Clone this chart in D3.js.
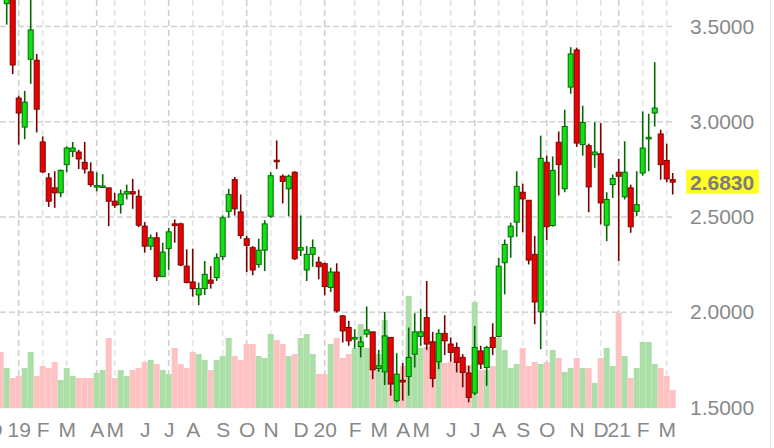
<!DOCTYPE html>
<html>
<head>
<meta charset="utf-8">
<script src="https://cdn.jsdelivr.net/npm/d3@7"></script>
<style>
  body { margin: 0; background: #fff; }
  svg { display: block; }
</style>
</head>
<body>
<script>
// Weekly candles, Dec 2018 - Mar 2021 (first entry sits above the visible range)
const open = [3.80, 3.62, 3.72, 3.124, 2.972, 3.328, 3.323, 2.894, 2.705, 2.653,
  2.627, 2.775, 2.845, 2.841, 2.787, 2.737, 2.660, 2.660, 2.653, 2.583,
  2.565, 2.621, 2.633, 2.609, 2.452, 2.347, 2.391, 2.187, 2.334, 2.464,
  2.464, 2.242, 2.159, 2.091, 2.124, 2.169, 2.182, 2.292, 2.530, 2.696,
  2.527, 2.386, 2.339, 2.251, 2.326, 2.504, 2.798, 2.714, 2.648, 2.735,
  2.326, 2.222, 2.304, 2.263, 2.255, 2.130, 2.211, 1.981, 1.920, 1.859,
  1.820, 1.885, 1.897, 1.705, 1.687, 1.868, 1.536, 1.643, 1.663, 1.780,
  1.873, 1.972, 1.845, 1.740, 1.889, 1.833, 1.815, 1.763, 1.681, 1.576,
  1.797, 1.710, 1.868, 1.873, 2.260, 2.396, 2.473, 2.630, 2.588, 2.304,
  2.002, 2.787, 2.455, 2.892, 2.648, 3.182, 3.377, 2.880, 2.874, 2.827,
  2.832, 2.457, 2.670, 2.735, 2.606, 2.653, 2.530, 2.731, 2.913, 3.046,
  2.936, 2.797, 2.696];
const high = [3.86, 3.78, 3.75, 3.136, 3.162, 3.66, 3.356, 2.923, 2.731, 2.740,
  2.749, 2.871, 2.894, 2.853, 2.894, 2.787, 2.735, 2.725, 2.653, 2.627,
  2.644, 2.670, 2.700, 2.644, 2.473, 2.408, 2.420, 2.365, 2.443, 2.487,
  2.470, 2.330, 2.334, 2.156, 2.269, 2.242, 2.309, 2.508, 2.648, 2.710,
  2.618, 2.400, 2.347, 2.386, 2.483, 2.735, 2.902, 2.723, 2.723, 2.740,
  2.508, 2.347, 2.382, 2.292, 2.260, 2.234, 2.257, 1.984, 1.955, 1.911,
  1.873, 2.030, 1.897, 1.803, 2.002, 1.868, 1.785, 1.733, 1.920, 1.995,
  2.019, 2.164, 1.897, 1.911, 1.984, 1.868, 1.841, 1.780, 1.719, 1.928,
  1.824, 1.824, 1.942, 2.286, 2.382, 2.470, 2.740, 2.675, 2.588, 2.400,
  2.927, 2.822, 2.818, 2.949, 3.063, 3.391, 3.389, 3.084, 2.885, 2.998,
  2.993, 2.630, 2.723, 2.805, 2.897, 2.670, 2.740, 3.054, 3.042, 3.313,
  2.958, 2.885, 2.731];
const low = [3.68, 3.51, 3.25, 2.880, 2.909, 3.199, 2.944, 2.731, 2.553, 2.548,
  2.604, 2.735, 2.815, 2.752, 2.728, 2.658, 2.635, 2.655, 2.452, 2.548,
  2.518, 2.592, 2.543, 2.447, 2.313, 2.326, 2.164, 2.187, 2.222, 2.365,
  2.242, 2.152, 2.082, 2.037, 2.091, 2.124, 2.164, 2.274, 2.496, 2.508,
  2.386, 2.211, 2.194, 2.234, 2.216, 2.496, 2.752, 2.571, 2.504, 2.274,
  2.295, 2.164, 2.239, 2.173, 2.089, 2.106, 1.998, 1.841, 1.824, 1.810,
  1.763, 1.868, 1.649, 1.687, 1.618, 1.562, 1.527, 1.536, 1.562, 1.710,
  1.824, 1.803, 1.606, 1.701, 1.775, 1.740, 1.684, 1.606, 1.527, 1.565,
  1.702, 1.614, 1.775, 1.868, 2.094, 2.286, 2.396, 2.420, 2.251, 1.937,
  1.806, 2.379, 2.449, 2.613, 2.630, 3.147, 2.868, 2.822, 2.525, 2.758,
  2.461, 2.373, 2.600, 2.269, 2.592, 2.417, 2.504, 2.717, 2.740, 2.975,
  2.696, 2.682, 2.618];
const close = [3.70, 3.70, 3.298, 3.046, 3.103, 3.482, 3.066, 2.737, 2.583, 2.627,
  2.745, 2.862, 2.862, 2.805, 2.752, 2.670, 2.665, 2.663, 2.583, 2.562,
  2.621, 2.633, 2.621, 2.457, 2.347, 2.391, 2.187, 2.316, 2.422, 2.455,
  2.248, 2.156, 2.124, 2.124, 2.199, 2.152, 2.286, 2.496, 2.618, 2.543,
  2.403, 2.351, 2.222, 2.326, 2.464, 2.717, 2.792, 2.687, 2.714, 2.281,
  2.339, 2.304, 2.339, 2.239, 2.135, 2.211, 2.007, 1.902, 1.850, 1.868,
  1.844, 1.907, 1.698, 1.719, 1.876, 1.623, 1.675, 1.634, 1.763, 1.897,
  1.897, 1.833, 1.653, 1.889, 1.850, 1.789, 1.737, 1.684, 1.553, 1.815,
  1.728, 1.815, 1.815, 2.242, 2.356, 2.452, 2.661, 2.595, 2.274, 2.054,
  2.808, 2.449, 2.745, 2.775, 2.975, 3.356, 2.888, 2.996, 2.658, 2.841,
  2.574, 2.592, 2.702, 2.714, 2.735, 2.449, 2.565, 2.862, 2.918, 3.072,
  2.775, 2.700, 2.683];
const volume = [56, 40, 30, 32, 40, 56, 32, 42, 40, 46,
  28, 40, 32, 30, 30, 30, 35, 38, 70, 30,
  38, 32, 38, 40, 46, 48, 44, 38, 34, 60,
  44, 40, 56, 54, 48, 38, 48, 52, 70, 52,
  48, 64, 64, 52, 50, 74, 68, 64, 52, 54,
  70, 74, 54, 34, 34, 64, 70, 50, 54, 60,
  84, 60, 40, 54, 88, 28, 25, 42, 112, 60,
  60, 61, 50, 55, 45, 46, 46, 43, 43, 106,
  38, 38, 42, 70, 58, 40, 44, 60, 42, 46,
  44, 46, 58, 50, 36, 40, 50, 40, 40, 25,
  50, 60, 42, 95, 52, 30, 40, 66, 66, 44,
  40, 32, 18];

// Month ticks (candle index) and their labels
const monthTicks = [-1, 3, 7, 11, 16, 19, 24, 28, 32, 37, 41, 45, 50, 54, 59, 63, 67, 70, 75, 79, 83, 87, 91, 96, 100, 103, 107, 111];
const monthLabels = ["D", "19", "F", "M", "A", "M", "J", "J", "A", "S", "O", "N", "D", "20", "F", "M", "A", "M", "J", "J", "A", "S", "O", "N", "D", "21", "F", "M"];
const quarterTicks = [3, 16, 28, 41, 54, 67, 79, 91, 103];
const priceTicks = [1.5, 2.0, 2.5, 3.0, 3.5];
const lastPrice = 2.683;

const W = 774, H = 448;
const plotRight = 676, plotBottom = 408;

const candles = open.map((o, i) => ({
  i: i, o: o, h: high[i], l: low[i], c: close[i], v: volume[i], up: close[i] >= o
}));

const svg = d3.select("body").append("svg")
  .attr("width", W)
  .attr("height", H);

// Scales
const x = d3.scaleLinear().domain([0, 112]).range([0.7, 672.7]);
const y = d3.scaleLinear().domain([1.5, 3.5]).range([407.5, 26.5]);
const yVol = d3.scaleLinear().domain([0, 100]).range([plotBottom, plotBottom - 100]);

svg.append("defs").append("clipPath").attr("id", "plot")
  .append("rect").attr("x", 0).attr("y", 0).attr("width", plotRight).attr("height", plotBottom);

// Vertical month gridlines (quarters darker)
svg.append("g").selectAll("line")
  .data(monthTicks)
  .enter().append("line")
  .attr("x1", d => x(d)).attr("x2", d => x(d))
  .attr("y1", 0).attr("y2", plotBottom)
  .attr("stroke", d => quarterTicks.includes(d) ? "#cfcfcf" : "#e4e4e4")
  .attr("stroke-width", 1.6)
  .attr("stroke-dasharray", "6,4");

// Horizontal price gridlines
svg.append("g").selectAll("line")
  .data(priceTicks)
  .enter().append("line")
  .attr("x1", 0).attr("x2", plotRight - 2)
  .attr("y1", d => y(d)).attr("y2", d => y(d))
  .attr("stroke", "#d2d2d2")
  .attr("stroke-width", 1.6)
  .attr("stroke-dasharray", "6,3");

const plot = svg.append("g").attr("clip-path", "url(#plot)");

// Volume bars
plot.append("g").selectAll("rect")
  .data(candles)
  .enter().append("rect")
  .attr("x", d => x(d.i) - 3)
  .attr("width", 6)
  .attr("y", d => yVol(d.v))
  .attr("height", d => plotBottom - yVol(d.v))
  .attr("fill", d => d.up ? "#acdfa8" : "#ffc2c2");

// Wicks
plot.append("g").selectAll("line")
  .data(candles)
  .enter().append("line")
  .attr("x1", d => x(d.i)).attr("x2", d => x(d.i))
  .attr("y1", d => y(d.h)).attr("y2", d => y(d.l))
  .attr("stroke", d => d.up ? "#006a00" : "#7a0000")
  .attr("stroke-width", 1.6);

// Bodies
plot.append("g").selectAll("rect")
  .data(candles)
  .enter().append("rect")
  .attr("x", d => x(d.i) - 2.5)
  .attr("width", 5)
  .attr("y", d => y(Math.max(d.o, d.c)))
  .attr("height", d => Math.max(1.5, Math.abs(y(d.o) - y(d.c))))
  .attr("fill", d => d.up ? "#11e011" : "#ee0000")
  .attr("stroke", d => d.up ? "#006a00" : "#7a0000")
  .attr("stroke-width", 1);

// Right price axis
const yAxis = svg.append("g")
  .attr("transform", `translate(${plotRight},0)`)
  .call(d3.axisRight(y).tickValues(priceTicks).tickFormat(d3.format(".4f")).tickSize(0).tickPadding(14));
yAxis.select(".domain").remove();
yAxis.selectAll("text")
  .attr("fill", "#888")
  .style("font-family", "'Liberation Sans', Arial, Helvetica, sans-serif")
  .style("font-size", "21px");

// Last price marker
svg.append("rect")
  .attr("x", 686).attr("y", y(lastPrice) - 12.5)
  .attr("width", 73).attr("height", 24)
  .attr("fill", "#ffff22");
svg.append("text")
  .attr("x", 690).attr("y", y(lastPrice))
  .attr("dy", "0.36em")
  .attr("fill", "#7c7c7c")
  .style("font-family", "'Liberation Sans', Arial, Helvetica, sans-serif")
  .style("font-size", "21px")
  .style("font-weight", "bold")
  .text(d3.format(".4f")(lastPrice));

// Month axis
const xAxis = svg.append("g")
  .attr("transform", `translate(0,${plotBottom})`)
  .call(d3.axisBottom(x).tickValues(monthTicks).tickFormat((d, i) => monthLabels[i]).tickSize(0).tickPadding(14));
xAxis.select(".domain").remove();
xAxis.selectAll("text")
  .attr("fill", "#888")
  .style("font-family", "'Liberation Sans', Arial, Helvetica, sans-serif")
  .style("font-size", "21px");

// Thin border at the right edge
svg.append("line")
  .attr("x1", 770.5).attr("x2", 770.5)
  .attr("y1", 0).attr("y2", H)
  .attr("stroke", "#e6e6e6");
</script>
</body>
</html>
